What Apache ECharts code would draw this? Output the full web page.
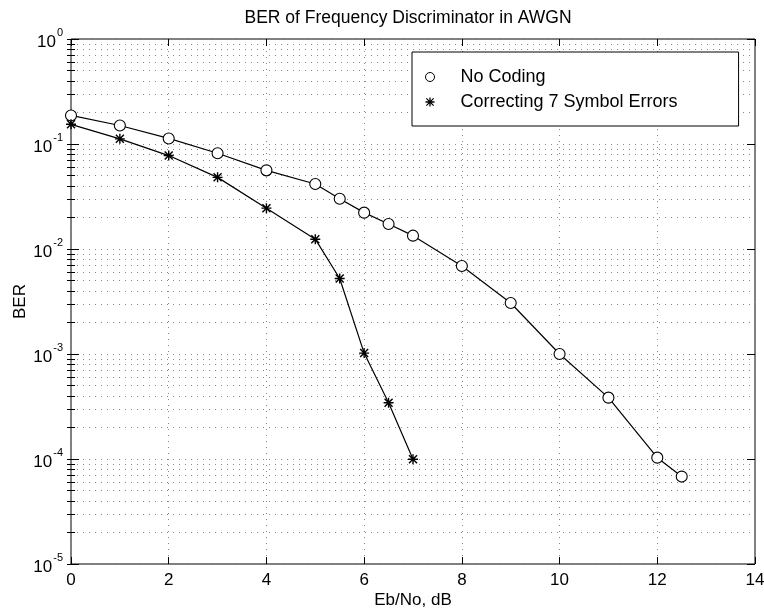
<!DOCTYPE html>
<html>
<head>
<meta charset="utf-8">
<script src="https://cdn.jsdelivr.net/npm/echarts@6/dist/echarts.min.js"></script>
<style>
  html, body { margin: 0; padding: 0; background: #fff; }
  #chart { width: 764px; height: 610px; }
</style>
</head>
<body>
<div id="chart"></div>
<script>
// Eb/No points (dB) and measured bit error rates
const ebnoUncoded = [0, 1, 2, 3, 4, 5, 5.5, 6, 6.5, 7, 8, 9, 10, 11, 12, 12.5];
const berUncoded = [0.187, 0.150, 0.113, 0.0817, 0.0561, 0.0416, 0.0301, 0.0222, 0.0173, 0.0134,
                    0.00688, 0.00306, 0.00100, 0.000384, 0.000103, 0.000068];
const ebnoCoded = [0, 1, 2, 3, 4, 5, 5.5, 6, 6.5, 7];
const berCoded = [0.154, 0.112, 0.0776, 0.0481, 0.0245, 0.0124, 0.00524, 0.00102, 0.000343, 0.0000993];

const seriesNames = ['No Coding', 'Correcting 7 Symbol Errors'];
const xTicks = [0, 2, 4, 6, 8, 10, 12, 14];
const yDecades = [1e-5, 1e-4, 1e-3, 1e-2, 1e-1, 1];
const yMinorSteps = [2, 3, 4, 5, 6, 7, 8, 9];

const fontFamily = '"Liberation Sans", Arial, Helvetica, sans-serif';

// every gridline position on the log axis: decades plus 2..9 inside each decade
const yAllTicks = [];
yDecades.forEach((d, i) => {
  yAllTicks.push(d);
  if (i < yDecades.length - 1) yMinorSteps.forEach(m => yAllTicks.push(+(d * m).toPrecision(3)));
});

// asterisk marker built from four bars
const asterisk = 'path://M8.6 0H11.4V20H8.6Z M0 8.6H20V11.4H0Z M1 3L3 1L19 17L17 19Z M17 1L19 3L3 19L1 17Z';

const pair = (xs, ys) => xs.map((x, i) => [x, ys[i]]);

const chart = echarts.init(document.getElementById('chart'), null, { renderer: 'canvas' });

const dotted = { type: [1, 5], color: '#8a8a8a', width: 1 };
const grid = {
  left: 71, right: 9, top: 39, bottom: 46,
  outerBoundsMode: 'none', containLabel: false,
  show: true, borderColor: '#000', borderWidth: 1
};

const logAxisBase = {
  type: 'log', logBase: 10, min: 1e-5, max: 1, gridIndex: 0,
  axisLine: { show: false }
};

chart.setOption({
  animation: false,
  backgroundColor: '#fff',
  title: {
    text: 'BER of Frequency Discriminator in AWGN',
    left: 403, top: 4, textAlign: 'center',
    textStyle: { fontFamily, fontSize: 17.5, fontWeight: 'normal', color: '#000' }
  },
  grid,
  legend: {
    orient: 'vertical',
    left: 412, top: 52,
    padding: [16, 61, 15, 13],
    itemGap: 7,
    itemWidth: 9, itemHeight: 9,
    borderColor: '#000', borderWidth: 1, backgroundColor: '#fff',
    formatter: name => '{g| }' + name,
    textStyle: {
      fontFamily, fontSize: 18, color: '#000', lineHeight: 18,
      rich: { g: { width: 21, fontSize: 18, lineHeight: 18 } }
    },
    data: [
      { name: seriesNames[0], icon: 'circle', itemStyle: { color: '#fff', borderColor: '#000', borderWidth: 1 } },
      { name: seriesNames[1], icon: asterisk, itemStyle: { color: '#000', borderWidth: 0 } }
    ],
    selectedMode: false
  },
  xAxis: [
    {
      type: 'value', min: 0, max: 14, interval: 2, position: 'bottom',
      name: 'Eb/No, dB', nameLocation: 'middle', nameGap: 28, nameMoveOverlap: false,
      nameTextStyle: { fontFamily, fontSize: 17, color: '#000' },
      axisLine: { show: false },
      axisTick: { inside: true, length: 7, customValues: xTicks, lineStyle: { color: '#000' } },
      axisLabel: { fontFamily, fontSize: 17, color: '#000', margin: 8, customValues: xTicks },
      splitLine: { show: true, lineStyle: dotted }
    },
    {
      type: 'value', min: 0, max: 14, interval: 2, position: 'top',
      axisLine: { show: false },
      axisTick: { inside: true, length: 7, lineStyle: { color: '#000' } },
      axisLabel: { show: false },
      splitLine: { show: false }
    }
  ],
  yAxis: [
    Object.assign({}, logAxisBase, {
      position: 'left',
      name: 'BER', nameLocation: 'middle', nameGap: 42, nameRotate: 90, nameMoveOverlap: false,
      nameTextStyle: { fontFamily, fontSize: 17, color: '#000' },
      axisTick: { inside: true, length: 4, customValues: yAllTicks, lineStyle: { color: '#000' } },
      axisLabel: {
        customValues: yDecades, margin: 8,
        formatter: v => '{b|10}{e|' + Math.round(Math.log10(v)) + '}',
        rich: {
          b: { fontFamily, fontSize: 17, color: '#000', lineHeight: 24, verticalAlign: 'bottom' },
          e: { fontFamily, fontSize: 11, color: '#000', lineHeight: 24, verticalAlign: 'top', padding: [0, 0, 12, 1] }
        }
      },
      splitLine: { show: true, lineStyle: dotted }
    }),
    Object.assign({}, logAxisBase, {
      position: 'right',
      axisTick: { inside: true, length: 4, customValues: yAllTicks, lineStyle: { color: '#000' } },
      axisLabel: { show: false },
      splitLine: { show: false }
    }),
    Object.assign({}, logAxisBase, {
      position: 'left',
      axisTick: { inside: true, length: 8, customValues: yDecades, lineStyle: { color: '#000' } },
      axisLabel: { show: false },
      splitLine: { show: false }
    }),
    Object.assign({}, logAxisBase, {
      position: 'right',
      axisTick: { inside: true, length: 8, customValues: yDecades, lineStyle: { color: '#000' } },
      axisLabel: { show: false },
      splitLine: { show: false }
    })
  ],
  series: [
    {
      name: seriesNames[0], type: 'line', xAxisIndex: 0, yAxisIndex: 0,
      data: pair(ebnoUncoded, berUncoded),
      symbol: 'circle', symbolSize: 11, showSymbol: true,
      lineStyle: { color: '#000', width: 1.2 },
      itemStyle: { color: '#fff', borderColor: '#000', borderWidth: 1.1 },
      emphasis: { disabled: true }, silent: true, z: 3
    },
    {
      name: seriesNames[1], type: 'line', xAxisIndex: 0, yAxisIndex: 0,
      data: pair(ebnoCoded, berCoded),
      symbol: asterisk, symbolSize: 10, showSymbol: true,
      lineStyle: { color: '#000', width: 1.2 },
      itemStyle: { color: '#000', borderWidth: 0 },
      emphasis: { disabled: true }, silent: true, z: 3
    }
  ]
});
</script>
</body>
</html>
